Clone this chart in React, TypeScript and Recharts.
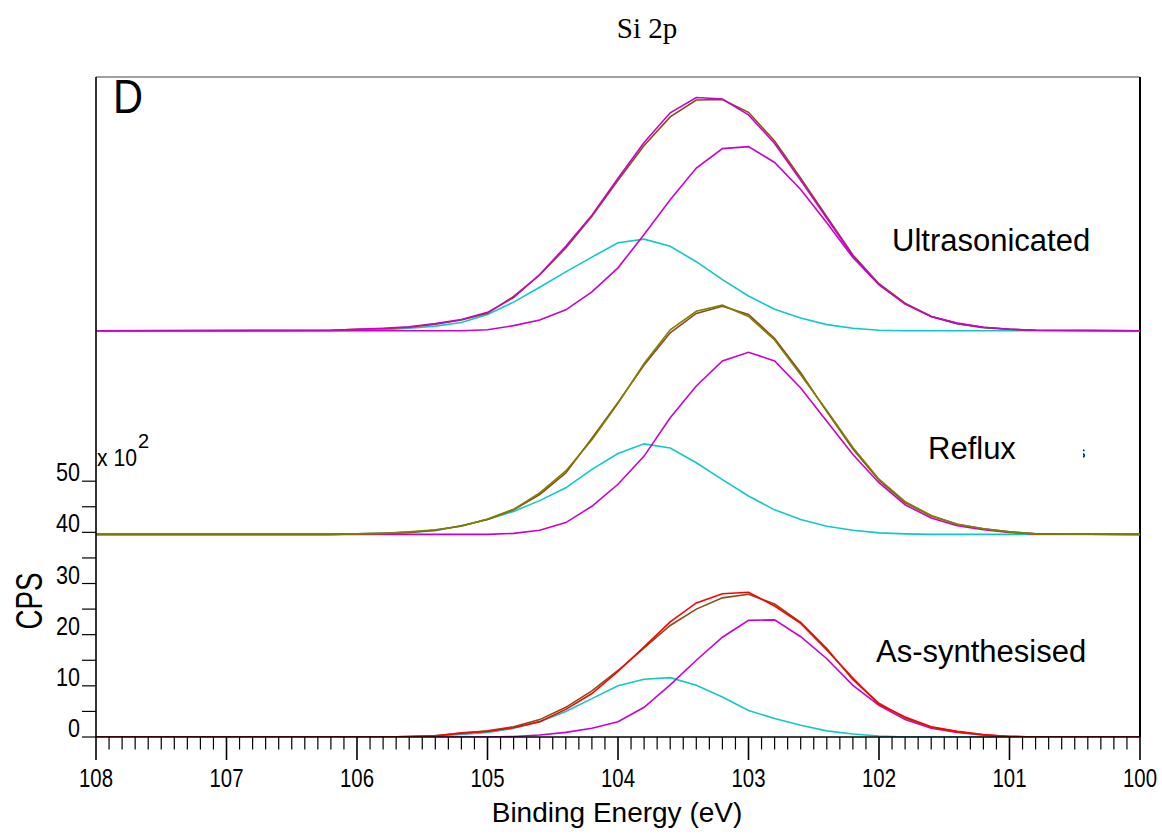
import React from 'react';
import { LineChart, Line, XAxis, YAxis, ReferenceLine } from 'recharts';

// Binding energy (eV) sample points
const energies = [108, 106.4, 106.2, 106.0, 105.8, 105.6, 105.4, 105.2, 105.0, 104.8, 104.6, 104.4, 104.2, 104.0, 103.8, 103.6, 103.4, 103.2, 103.0, 102.8, 102.6, 102.4, 102.2, 102.0, 101.8, 101.6, 101.4, 101.2, 101.0, 100.8, 100];

// As-synthesised (CPS x 10^2, offset 0)
const asRaw = [0, 0, 0, 0, 0, 0.1, 0.2, 0.8, 1.1, 1.8, 3.0, 5.4, 8.5, 12.8, 17.6, 22.5, 26.2, 28.0, 28.3, 25.6, 22.2, 17.0, 11.5, 6.4, 3.9, 2.0, 1.1, 0.5, 0.1, 0, 0];
const asEnvelope = [0, 0, 0, 0, 0, 0.1, 0.3, 0.7, 1.2, 2.0, 3.4, 5.8, 9.0, 13.0, 17.4, 21.8, 25.0, 27.2, 27.9, 26.0, 22.4, 17.3, 11.2, 6.6, 3.7, 1.9, 1.0, 0.4, 0.1, 0, 0];
const asPeakLow = [0, 0, 0, 0, 0, 0, 0, 0, 0, 0.1, 0.4, 0.9, 1.7, 3.0, 5.8, 10.2, 15.0, 19.5, 22.8, 22.9, 19.6, 15.3, 10.1, 6.2, 3.4, 1.7, 0.9, 0.4, 0.1, 0, 0];
const asPeakHigh = [0, 0, 0, 0, 0, 0.1, 0.2, 0.5, 0.9, 1.7, 3.0, 5.0, 7.5, 10.0, 11.3, 11.6, 10.1, 7.8, 5.2, 3.6, 2.3, 1.2, 0.6, 0.2, 0, 0, 0, 0, 0, 0, 0];

// Reflux (relative to its baseline)
const refluxOffset = 39.6;
const refluxRaw = [0, 0, 0, 0.1, 0.2, 0.5, 0.9, 1.6, 3.0, 4.9, 8.1, 12.4, 18.5, 25.6, 33.4, 40.0, 43.6, 44.8, 42.6, 38.0, 31.2, 24.2, 17.0, 10.8, 6.4, 3.7, 2.0, 1.1, 0.5, 0.1, 0];
const refluxEnvelope = [0, 0, 0, 0.1, 0.2, 0.4, 0.8, 1.7, 2.9, 4.8, 7.8, 12.0, 18.8, 25.8, 33.1, 39.4, 43.2, 44.6, 43.0, 38.3, 31.6, 24.0, 16.7, 10.6, 6.2, 3.6, 2.0, 1.1, 0.5, 0.1, 0];
const refluxPeakLow = [0, 0, 0, 0, 0, 0, 0, 0, 0, 0.2, 0.8, 2.3, 5.5, 9.8, 15.3, 22.8, 29.0, 33.9, 35.6, 33.9, 28.6, 22.1, 15.6, 10.1, 5.8, 3.2, 1.7, 0.9, 0.4, 0.1, 0];
const refluxPeakHigh = [0, 0, 0, 0.1, 0.2, 0.4, 0.7, 1.7, 2.9, 4.5, 6.6, 9.1, 12.7, 15.8, 17.7, 16.9, 14.0, 10.7, 7.5, 4.8, 2.9, 1.6, 0.8, 0.3, 0.1, 0, 0, 0, 0, 0, 0];

// Ultrasonicated (relative to its baseline)
const ultraOffset = 79.4;
const ultraRaw = [0, 0.1, 0.1, 0.3, 0.5, 0.8, 1.4, 2.2, 3.6, 6.5, 11.0, 16.5, 22.6, 29.8, 36.8, 42.6, 45.6, 45.3, 42.2, 36.6, 29.4, 22.0, 14.6, 9.0, 5.2, 2.8, 1.5, 0.7, 0.3, 0.1, 0];
const ultraEnvelope = [0, 0.05, 0.1, 0.3, 0.4, 0.7, 1.3, 2.1, 3.4, 6.7, 10.9, 16.2, 22.4, 29.4, 36.2, 41.8, 45.1, 45.2, 42.7, 37.1, 29.8, 22.3, 14.8, 9.2, 5.4, 2.8, 1.4, 0.6, 0.3, 0.1, 0];
const ultraPeakLow = [0, 0, 0, 0, 0, 0, 0, 0, 0.2, 1.0, 2.1, 4.1, 7.6, 12.3, 18.8, 25.6, 31.8, 35.6, 36.0, 32.9, 27.6, 21.1, 14.3, 9.0, 5.3, 2.8, 1.4, 0.7, 0.3, 0.1, 0];
const ultraPeakHigh = [0, 0, 0, 0.1, 0.2, 0.5, 0.9, 1.6, 3.2, 5.6, 8.5, 11.5, 14.4, 17.2, 17.9, 16.5, 13.5, 10.0, 6.8, 4.2, 2.5, 1.2, 0.5, 0.1, 0, 0, 0, 0, 0, 0, 0];

// Axis ticks
const xMajorTicks = [108, 107, 106, 105, 104, 103, 102, 101, 100];
const xAllTicks = Array.from({ length: 81 }, (_, i) => Math.round((108 - i * 0.1) * 10) / 10);
const yTicks = [0, 5, 10, 15, 20, 25, 30, 35, 40, 45, 50];
const yLabelled = [0, 10, 20, 30, 40, 50];
const Y_TOP = 129;

const data = energies.map((e, i) => ({
  e,
  asRaw: asRaw[i],
  asEnv: asEnvelope[i],
  asLow: asPeakLow[i],
  asHigh: asPeakHigh[i],
  rfRaw: refluxRaw[i] + refluxOffset,
  rfEnv: refluxEnvelope[i] + refluxOffset,
  rfLow: refluxPeakLow[i] + refluxOffset,
  rfHigh: refluxPeakHigh[i] + refluxOffset,
  usRaw: ultraRaw[i] + ultraOffset,
  usEnv: ultraEnvelope[i] + ultraOffset,
  usLow: ultraPeakLow[i] + ultraOffset,
  usHigh: ultraPeakHigh[i] + ultraOffset,
}));

const SANS = '"Liberation Sans", Arial, sans-serif';
const MAGENTA = '#CC00CC';
const CYAN = '#10C8C8';
const BROWN = '#8C4A14';
const OLIVE = '#7F7F00';
const RED = '#FF0000';

const AXIS_Y = 737;

const XTick = (props: any) => {
  const { x, payload } = props;
  const v = payload.value;
  const isMajor = xMajorTicks.some((m) => Math.abs(m - v) < 1e-6);
  return (
    <g>
      <line x1={x} x2={x} y1={AXIS_Y} y2={AXIS_Y + (isMajor ? 23 : 12.5)} stroke="#000" strokeWidth={isMajor ? 1.6 : 1.2} />
      {isMajor && (
        <text x={x} y={787} textAnchor="middle" fontFamily={SANS} fontSize={26} textLength={34} lengthAdjust="spacingAndGlyphs" fill="#000">
          {Math.round(v)}
        </text>
      )}
    </g>
  );
};

const YTick = (props: any) => {
  const { y, payload } = props;
  const v = payload.value;
  if (!yLabelled.includes(v)) return <g />;
  const s = String(v);
  return (
    <text x={80} y={y} textAnchor="end" fontFamily={SANS} fontSize={26} textLength={12 * s.length} lengthAdjust="spacingAndGlyphs" fill="#000">
      {s}
    </text>
  );
};

export default function App() {
  const lineProps = { type: 'linear' as const, dot: false, isAnimationActive: false, strokeWidth: 1.6 };
  return (
    <div style={{ position: 'absolute', left: 0, top: 0, width: 1162, height: 834, background: '#fff' }}>
      <LineChart width={1162} height={834} data={data} margin={{ top: 77, right: 22, bottom: 37, left: 36 }}>
        <XAxis
          dataKey="e"
          type="number"
          domain={[100, 108]}
          reversed
          ticks={xAllTicks}
          interval={0}
          height={60}
          tick={XTick}
          tickLine={false}
          axisLine={{ stroke: '#000', strokeWidth: 1.6 }}
          allowDataOverflow
        />
        <YAxis
          type="number"
          domain={[0, Y_TOP]}
          ticks={yTicks}
          interval={0}
          width={60}
          tickSize={14}
          tickMargin={2}
          tick={YTick}
          axisLine={{ stroke: '#000', strokeWidth: 1.6 }}
          tickLine={{ stroke: '#000', strokeWidth: 1.2 }}
          allowDataOverflow
        />
        <ReferenceLine y={Y_TOP} stroke="#808080" strokeWidth={1.5} ifOverflow="visible" />
        <ReferenceLine x={100} stroke="#000" strokeWidth={2} ifOverflow="visible" />

        <Line dataKey="asHigh" stroke={CYAN} {...lineProps} />
        <Line dataKey="asLow" stroke={MAGENTA} {...lineProps} />
        <Line dataKey="asEnv" stroke={BROWN} {...lineProps} />
        <Line dataKey="asRaw" stroke={RED} {...lineProps} />

        <Line dataKey="rfHigh" stroke={CYAN} {...lineProps} />
        <Line dataKey="rfLow" stroke={MAGENTA} {...lineProps} />
        <Line dataKey="rfEnv" stroke={BROWN} {...lineProps} />
        <Line dataKey="rfRaw" stroke={OLIVE} {...lineProps} />

        <Line dataKey="usHigh" stroke={CYAN} {...lineProps} />
        <Line dataKey="usLow" stroke={MAGENTA} {...lineProps} />
        <Line dataKey="usEnv" stroke={BROWN} {...lineProps} />
        <Line dataKey="usRaw" stroke={MAGENTA} {...lineProps} />
      </LineChart>
      <svg width={1162} height={834} style={{ position: 'absolute', left: 0, top: 0, pointerEvents: 'none' }}>
        <text x={647} y={38} textAnchor="middle" fontFamily='"Liberation Serif", "Times New Roman", serif' fontSize={29} fill="#000">Si 2p</text>
        <text x={113} y={113} fontFamily={SANS} fontSize={48} textLength={30} lengthAdjust="spacingAndGlyphs" fill="#000">D</text>
        <text x={892} y={251} fontFamily={SANS} fontSize={31} fill="#000">Ultrasonicated</text>
        <text x={928} y={459} fontFamily={SANS} fontSize={31} fill="#000">Reflux</text>
        <text x={876} y={662} fontFamily={SANS} fontSize={31} fill="#000">As-synthesised</text>
        <text x={97} y={466} fontFamily={SANS} fontSize={23} textLength={40} lengthAdjust="spacingAndGlyphs" fill="#000">x 10</text>
        <text x={138} y={448} fontFamily={SANS} fontSize={20} fill="#000">2</text>
        <text transform="translate(42,601) rotate(-90)" x={0} y={0} textAnchor="middle" fontFamily={SANS} fontSize={37} textLength={57} lengthAdjust="spacingAndGlyphs" fill="#000">CPS</text>
        <text x={617} y={822} textAnchor="middle" fontFamily={SANS} fontSize={28} fill="#000">Binding Energy (eV)</text>
        <defs>
          <clipPath id="sClip">
            <rect x={1083} y={440} width={10} height={25} />
          </clipPath>
        </defs>
        <text x={1077} y={458} fontFamily={SANS} fontSize={17} fill="#000" clipPath="url(#sClip)">s</text>
      </svg>
    </div>
  );
}
